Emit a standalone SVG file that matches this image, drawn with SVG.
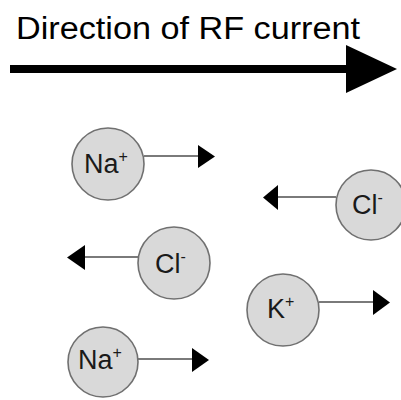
<svg xmlns="http://www.w3.org/2000/svg" width="401" height="400" viewBox="0 0 401 400">
<style>
.ion{fill:#d9d9d9;stroke:#707070;stroke-width:1.6}
.lbl{font-family:"Liberation Sans",Arial,sans-serif;font-size:27px;fill:#1a1a1a}
.sup{font-size:16px}
.conn{stroke:#7a7a7a;stroke-width:2;fill:none}
.head{fill:#000}
</style>
<rect width="401" height="400" fill="#fff"/>
<g id="title">
<text x="16" y="39" font-family="'Liberation Sans',Arial,sans-serif" font-size="31" fill="#000" textLength="344" lengthAdjust="spacingAndGlyphs">Direction of RF current</text>
<line x1="10" y1="69" x2="350" y2="69" stroke="#000" stroke-width="8"/>
<polygon points="346,45 397,69 346,93" fill="#000"/>
</g>
<g id="connectors">
<line class="conn" x1="144" y1="156" x2="199" y2="156"/>
<polygon class="head" points="198,145 215,156.5 198,168"/>
<line class="conn" x1="277" y1="197" x2="336" y2="197"/>
<polygon class="head" points="278,185 263,197.5 278,210"/>
<line class="conn" x1="84" y1="257" x2="138" y2="257"/>
<polygon class="head" points="85,245 67,257.5 85,270"/>
<line class="conn" x1="319" y1="302" x2="374" y2="302"/>
<polygon class="head" points="373,290 390,302.5 373,315"/>
<line class="conn" x1="138" y1="359" x2="193" y2="359"/>
<polygon class="head" points="192,348 209,360 192,372"/>
</g>
<g id="na1">
<circle class="ion" cx="108" cy="164" r="36"/>
<text class="lbl" x="84" y="173">Na<tspan class="sup" dy="-11">+</tspan></text>
</g>
<g id="cl1">
<circle class="ion" cx="371" cy="205" r="35"/>
<text class="lbl" x="352" y="214">Cl<tspan class="sup" dy="-11">-</tspan></text>
</g>
<g id="cl2">
<circle class="ion" cx="174" cy="263" r="36"/>
<text class="lbl" x="155" y="273">Cl<tspan class="sup" dy="-11">-</tspan></text>
</g>
<g id="k1">
<circle class="ion" cx="283" cy="310" r="36"/>
<text class="lbl" x="267" y="318">K<tspan class="sup" dy="-11">+</tspan></text>
</g>
<g id="na2">
<circle class="ion" cx="103" cy="362" r="35"/>
<text class="lbl" x="78" y="369">Na<tspan class="sup" dy="-11">+</tspan></text>
</g>
</svg>
